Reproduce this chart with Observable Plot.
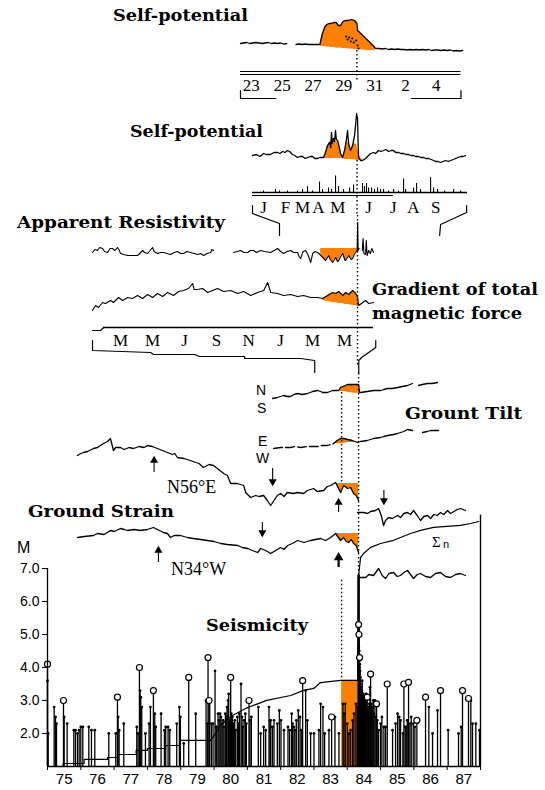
<!DOCTYPE html>
<html><head><meta charset="utf-8">
<script src="https://cdn.jsdelivr.net/npm/d3@7"></script>
<script src="https://cdn.jsdelivr.net/npm/@observablehq/plot@0.6"></script>
<style>
body{margin:0;background:#fff;}
#chart{position:relative;width:545px;height:790px;overflow:hidden;background:#fff;}
</style></head><body><div id="chart"></div>
<script>
// ---------- DATA ----------
// Panel 1: daily self-potential (day index, 0 = 23rd)
const spDayTicks = [0, 2, 4, 6, 8, 10, 12];
const spDayLabels = ["23", "25", "27", "29", "31", "2", "4"];
const sp1 = [[-0.7,4],[-0.5,5],[-0.3,6],[-0.1,4],[0.1,5],[0.3,6],[0.5,5],[0.7,4],[0.9,5],[1.1,6],[1.3,4],[1.5,5],[1.7,4],[1.9,5],[2.1,3],[2.3,4],[2.6,NaN],[2.9,2],[3.1,3],[3.3,2],[3.5,3],[3.7,2],[3.9,2],[4.1,2],[4.3,2],[4.45,2],[4.6,22],[4.75,36],[4.9,42],[5.05,44],[5.2,44],[5.35,46],[5.5,46],[5.65,40],[5.8,40],[5.95,48],[6.1,50],[6.3,50],[6.5,52],[6.7,50],[6.85,44],[6.9,30],[7.1,24],[7.3,18],[7.5,12],[7.7,6],[7.9,0],[8.05,-6],[8.3,-6],[8.5,-7],[8.7,-6],[8.9,-8],[9.1,-7],[9.3,-8],[9.5,-7],[9.7,-8],[9.9,-8],[10.1,-9],[10.3,-8],[10.5,-9],[10.7,-8],[10.9,-9],[11.1,-8],[11.3,-9],[11.5,-8],[11.7,-10],[11.9,-9],[12.1,-9],[12.3,-10],[12.5,-9],[12.7,-10],[12.9,-9],[13.1,-11],[13.3,-10],[13.5,-11],[13.7,-10]];
const sp1Event = [[4.45,2,-1],[4.6,22,-2],[4.75,36,-2],[4.9,42,-3],[5.05,44,-3],[5.2,44,-4],[5.35,46,-4],[5.5,46,-5],[5.65,40,-5],[5.8,40,-5],[5.95,48,-6],[6.1,50,-6],[6.3,50,-7],[6.5,52,-7],[6.7,50,-8],[6.85,44,-8],[6.9,30,-8],[7.1,24,-9],[7.3,18,-9],[7.5,12,-10],[7.7,6,-10],[7.9,0,-10],[8.05,-11,-11]];
const sp1Scribble = [[6.15,18],[6.25,12],[6.35,16],[6.45,8],[6.55,14],[6.65,6],[6.8,10],[6.9,0],[6.95,-6]];
const sp1Guide = [[6.85,-10,-74]];
const sp1AxisLines = [0, 3];
const sp1BracketL = [[-0.7,19],[-0.7,27],[1.6,27]];
const sp1BracketR = [[10.4,27],[13.6,27],[13.6,19]];

// Panel 2: monthly self-potential (day of year)
const monthTicks2 = [15, 44.5, 67.5, 89, 115, 156.5, 190, 217, 247];
const monthLabels2 = ["J","F","M","A","M","J","J","A","S"];
const sp2 = [[0,0],[5,1],[10,-1],[14.8,2],[19,1],[24.3,1],[29,3],[33.7,3],[37,2],[40.5,4],[44,3],[47.2,5],[50,4],[54,1],[57,0],[60.7,-2],[64,-1],[67.5,-1],[71,-3],[74.2,-2],[78,-1],[81,-1],[84,-3],[87.7,-3],[91,-2],[95.8,-2],[98.5,3],[101.2,10],[103.9,13],[105.5,8],[106.6,23],[107.5,12],[109.3,17],[110.5,14],[112,25],[113,16],[114.7,15],[117.4,7],[118.8,2],[121.5,-2],[124.2,5],[126.9,17],[128.2,25],[129.6,12],[132.3,5],[135,10],[137.7,20],[139,30],[140.4,42],[141.7,37],[142.5,10],[143.1,-2],[145.7,-5],[148.4,-5],[152.5,-3],[155.2,-1],[159.2,2],[163.3,3],[166,2],[170,5],[173,4],[176.8,5],[180,6],[183.5,4],[187,5],[190.3,5],[193,3],[197,3],[200,2],[203.8,2],[207,1],[210.5,1],[214,0],[217.3,0],[220,-1],[224,-1],[227,-2],[230.8,-2],[234,-3],[237.6,-3],[241,-4],[244.3,-5],[247,-6],[249.7,-6],[253.7,-7],[257,-6],[260.5,-5],[264,-6],[267.2,-5],[271,-4],[274,-3],[277,-2],[280.8,-1],[284,-1],[287.4,0]];
const sp2Fill = [[95.8,-2,-3],[98.5,3,-3],[101.2,9,-3],[103.9,13,-3],[106.6,15,-3],[109.3,16,-3],[112,15,-3],[114.7,13,-3],[117.4,7,-3],[118.8,2,-3],[121.5,-2,-3],[124.2,5,-4],[126.9,14,-4],[129.6,12,-4],[132.3,6,-4],[135,9,-4],[137.7,12,-4],[140.4,11,-5],[143.1,2,-5],[145.7,-2,-5],[148.4,-5,-5]];
const sp2Counts = [[14.8,1],[31,2],[36.4,1],[47.2,1],[60.7,1],[67.5,2],[74.2,4],[81,1],[90.4,7],[94.5,2],[102.6,3],[106.6,2],[112,11],[116,4],[122.8,2],[130.9,3],[136.3,5],[148.4,6],[151.1,4],[153.8,6],[156.5,3],[160.6,3],[164.6,2],[168.7,3],[172.7,2],[176.8,2],[183.5,1],[190.3,2],[197,1],[203.8,9],[206.5,2],[217.3,3],[221.3,6],[226.7,2],[240.2,10],[244.3,3],[249.7,2],[259.1,1],[271.3,2],[280.7,1]];
const sp2Guide = [[141,-32,23]];
const sp2BracketL = [[0,13],[0,21],[36.4,31],[36.4,43]];
const sp2BracketR = [[288.8,13],[288.8,20],[253.7,32],[252.4,43]];

// Panel 3: resistivity and magnetic gradient (months, 0 = Jan 1)
const monthTicks3 = [2.5, 4.5, 6.5, 8.5, 10.5, 12.5, 14.5, 16.5];
const monthLabels3 = ["M","M","J","S","N","J","M","M"];
const resist = [[0.75,-2],[0.9,1],[1.06,0],[1.2,3],[1.38,2],[1.5,-1],[1.69,-2],[1.85,2],[2.0,2],[2.15,0],[2.31,3],[2.4,1],[2.5,-3],[2.7,-4],[2.94,-5],[3.2,-5],[3.56,-5],[3.7,-3],[3.88,0],[4.0,-2],[4.19,-3],[4.35,0],[4.5,3],[4.6,-1],[4.81,-3],[5.0,-2],[5.19,-2],[5.4,-3],[5.63,-4],[5.85,-2],[6.06,-1],[6.25,-3],[6.44,-3],[6.65,-1],[6.88,-2],[7.1,-3],[7.31,-4],[7.5,-3],[7.69,-5],[7.9,-3],[8.13,-2],[8.2,1],[8.31,0],[8.9,NaN],[9.56,-2],[9.8,-1],[10.0,0],[10.2,-2],[10.44,-2],[10.6,0],[10.81,0],[11.0,-2],[11.25,0],[11.5,-1],[11.88,-2],[12.1,0],[12.31,2],[12.5,-1],[12.69,-3],[12.9,-1],[13.13,0],[13.3,-2],[13.56,-2],[13.65,-6],[13.75,-8],[13.9,-1],[14.06,0],[14.2,-4],[14.38,-12],[14.5,-3],[14.65,-1],[14.81,-2],[14.95,-4],[15.13,-7],[15.31,-10],[15.5,-5],[15.6,-9],[15.75,-12],[15.94,-7],[16.05,-11],[16.13,-10],[16.25,-6],[16.38,-3],[16.5,-9],[16.56,-10],[16.75,-5],[16.9,-9],[17.0,-8],[17.1,-4],[17.19,-2],[17.28,0],[17.31,28],[17.34,0],[17.4,2],[17.5,NaN],[17.6,0],[17.65,12],[17.7,-3],[17.8,-4],[17.85,10],[17.9,-5],[18.0,0],[18.1,-3],[18.2,2],[18.3,-2]];
const resistBase = 2;
const resistFill = [[15.0,-3],[15.13,-7],[15.31,-10],[15.5,-5],[15.6,-9],[15.75,-12],[15.94,-7],[16.05,-11],[16.13,-10],[16.25,-6],[16.38,-3],[16.5,-9],[16.56,-10],[16.75,-5],[16.9,-9],[17.0,-8],[17.1,-4],[17.19,-2],[17.31,0]];
const magnetic = [[0.75,-10],[0.94,-5],[1.13,-7],[1.38,-2],[1.56,-3],[1.88,0],[2.06,-2],[2.38,3],[2.63,0],[2.94,3],[3.25,2],[3.56,5],[3.88,2],[4.19,6],[4.5,3],[4.81,7],[5.13,4],[5.44,8],[5.81,5],[6.13,9],[6.44,10],[6.75,12],[7.0,17],[7.1,11],[7.31,11],[7.63,12],[7.94,8],[8.25,10],[8.56,12],[8.94,9],[9.38,10],[9.81,7],[10.19,9],[10.63,5],[11.06,8],[11.44,10],[11.69,18],[11.88,8],[12.31,7],[12.69,5],[13.13,6],[13.56,4],[13.94,5],[14.38,3],[14.81,3],[15.13,2],[15.44,5],[15.75,8],[15.94,7],[16.13,9],[16.38,5],[16.56,8],[16.75,6],[17.0,10],[17.19,7],[17.31,3],[17.38,-5],[17.63,-2],[17.81,0],[18.0,-3],[18.31,-2]];
const magFill = [[15.13,2,0],[15.44,5,-1],[15.75,8,-2],[15.94,7,-2],[16.13,9,-3],[16.38,5,-3],[16.56,8,-4],[16.75,6,-4],[17.0,10,-5],[17.19,7,-5],[17.31,3,-6],[17.38,-5,-7]];
const p3Guide = [[17.3,-112,40]];
const p3AxisStub = [[0.75,3],[1.25,3],[1.45,0]];
const p3BracketL = [[0.75,13],[0.75,23],[4.38,25],[4.56,27],[7.13,27],[7.44,29],[10.25,29],[10.25,31],[13.75,31],[14.63,33],[14.63,45]];
const p3BracketR = [[18.44,13],[18.44,20],[17.56,30],[17.38,33],[17.38,46]];

// Ground tilt (decimal year)
const tiltNS = [[1981.76,-8],[1981.9,-7],[1982.09,-5],[1982.2,-6],[1982.3,-6],[1982.4,-4],[1982.51,-3],[1982.65,-4],[1982.81,-3],[1982.96,-1],[1983.11,0],[1983.2,-1],[1983.26,-2],[1983.41,-2],[1983.56,0],[1983.74,0],[1983.8,3],[1983.95,5],[1984.01,6],[1984.34,6],[1984.37,-2],[1984.4,-2],[1984.6,-1],[1984.79,0],[1985.0,0],[1985.1,1],[1985.21,2],[1985.35,2],[1985.51,3],[1985.65,4],[1985.81,5],[1985.96,7],[1986.05,NaN],[1986.14,5],[1986.25,6],[1986.41,7],[1986.55,7],[1986.71,8]];
const tiltNSFill = [[1983.76,0,-1],[1983.8,3,-1],[1983.95,5,-1],[1984.01,6,-2],[1984.34,6,-3],[1984.37,-2,-3]];
const tiltEWBefore = [[1981.79,-8],[1982.0,-7],[1982.3,-7],[1982.45,-6],[1982.6,-7],[1982.81,-6],[1983.0,-6],[1983.11,-6],[1983.25,-5],[1983.41,-5],[1983.59,-3]];
const tiltEWAfter = [[1983.59,-3],[1983.7,0],[1983.8,2],[1983.9,2],[1984.01,1],[1984.15,0],[1984.31,-2],[1984.4,-1],[1984.6,0],[1984.79,2],[1985.0,3],[1985.1,4],[1985.21,5],[1985.39,6],[1985.5,7],[1985.6,8],[1985.7,9],[1985.81,11],[1985.96,10],[1986.1,NaN],[1986.26,8],[1986.4,9],[1986.5,10],[1986.74,10]];
const tiltEWFill = [[1983.59,-3,-3],[1983.7,0,-3],[1983.8,2,-3],[1983.9,2,-3],[1984.01,1,-2],[1984.15,0,-2],[1984.31,-2,-2]];

// Ground strain (decimal year)
const strainN56E = [[1975.9,25],[1976.0,27],[1976.08,28],[1976.2,29],[1976.38,32],[1976.5,33],[1976.68,37],[1976.8,39],[1976.89,42],[1976.92,38],[1976.98,30],[1977.05,33],[1977.19,33],[1977.3,31],[1977.45,33],[1977.58,32],[1977.75,34],[1977.9,33],[1978.0,35],[1978.15,34],[1978.3,32],[1978.45,30],[1978.6,28],[1978.75,26],[1978.82,27],[1978.9,23],[1979.1,22],[1979.29,20],[1979.45,18],[1979.55,17],[1979.68,13],[1979.85,16],[1979.98,15],[1980.1,12],[1980.29,7],[1980.4,5],[1980.5,-3],[1980.7,-3],[1980.89,-5],[1980.95,-12],[1981.1,-17],[1981.25,-15],[1981.35,-16],[1981.49,-15],[1981.6,-20],[1981.7,-25],[1981.8,-20],[1981.9,-15],[1982.0,-13],[1982.1,-16],[1982.2,-12],[1982.39,-13],[1982.5,-12],[1982.69,-13],[1982.8,-10],[1982.99,-8],[1983.1,-11],[1983.29,-10],[1983.4,-6],[1983.5,-5],[1983.65,-2],[1983.8,-12],[1983.89,-5],[1984.01,-8],[1984.1,-7],[1984.19,-13],[1984.27,-15],[1984.34,-20]];
const strainN56EFill = [[1983.65,-2,-3],[1983.72,-8,-3],[1983.8,-12,-3],[1983.89,-5,-3],[1984.01,-8,-3],[1984.1,-7,-3],[1984.19,-13,-3],[1984.27,-15,-3],[1984.34,-20,-3]];
const strainN56EAfter = [[1984.31,-32],[1984.5,-32],[1984.61,-33],[1984.7,-31],[1984.85,-30],[1984.94,-28],[1985.02,-35],[1985.09,-45],[1985.15,-40],[1985.24,-37],[1985.35,-38],[1985.51,-35],[1985.6,-37],[1985.7,-33],[1985.81,-32],[1985.9,-34],[1985.99,-30],[1986.1,-35],[1986.2,-40],[1986.3,-36],[1986.41,-35],[1986.5,-38],[1986.6,-34],[1986.7,-35],[1986.8,-32],[1986.9,-34],[1987.01,-30],[1987.1,-33],[1987.2,-31],[1987.3,-29],[1987.4,-28],[1987.55,-30]];
const strainN34W = [[1975.9,13],[1976.1,14],[1976.38,15],[1976.5,17],[1976.7,16],[1976.89,20],[1977.0,19],[1977.19,22],[1977.3,21],[1977.4,20],[1977.6,21],[1977.79,20],[1978.0,21],[1978.18,23],[1978.3,21],[1978.48,18],[1978.6,17],[1978.69,13],[1978.8,15],[1978.99,15],[1979.2,13],[1979.38,12],[1979.6,11],[1979.8,10],[1980.0,9],[1980.2,7],[1980.4,6],[1980.71,5],[1980.85,3],[1981.01,2],[1981.15,0],[1981.31,-2],[1981.4,2],[1981.55,0],[1981.7,-3],[1981.85,0],[1982.0,3],[1982.1,1],[1982.21,5],[1982.35,7],[1982.51,10],[1982.7,8],[1982.9,10],[1983.05,11],[1983.2,12],[1983.35,10],[1983.5,13],[1983.65,17],[1983.8,10],[1983.89,13],[1983.97,9],[1984.04,8],[1984.12,11],[1984.19,7],[1984.27,5],[1984.34,-2]];
const strainN34WFill = [[1983.65,17,17],[1983.8,10,17],[1983.89,13,17],[1983.97,9,17],[1984.04,8,17],[1984.12,11,17],[1984.19,7,17],[1984.27,5,17],[1984.34,-2,17]];
const strainN34WAfter = [[1984.34,-27],[1984.55,-27],[1984.65,-24],[1984.79,-25],[1984.94,-18],[1985.05,-25],[1985.15,-28],[1985.25,-23],[1985.39,-22],[1985.5,-26],[1985.6,-25],[1985.7,-22],[1985.81,-20],[1985.9,-24],[1985.99,-28],[1986.1,-24],[1986.2,-23],[1986.35,-26],[1986.5,-27],[1986.65,-23],[1986.8,-22],[1986.95,-26],[1987.1,-27],[1987.25,-24],[1987.4,-23],[1987.55,-25]];
// arrows on the strain records: [year, tail, head, kind] in each record's units
const arrowsN56E = [[1978.2,8,20,"up"],[1981.76,12,-1,"down"],[1983.74,-32,-22,"up"],[1985.1,-10,-20,"down"]];
const arrowsN34W = [[1981.45,28,18,"down"],[1978.33,-12,0,"up"],[1983.74,-17,-7,"upbold"]];

// Seismicity
const yearTicks = [1975,1976,1977,1978,1979,1980,1981,1982,1983,1984,1985,1986,1987,1988];
const yearLabels = ["75","76","77","78","79","80","81","82","83","84","85","86","87"];
const magTicks = [2, 3, 4, 5, 6, 7];
const quakes = [[1975.0,4.1],[1975.0,3.6],[1975.02,2.0],[1975.2,2.8],[1975.24,2.5],[1975.27,2.3],[1975.48,3.0],[1975.5,2.5],[1975.59,2.3],[1975.79,2.1],[1975.84,2.1],[1975.9,2.0],[1975.95,2.1],[1976.0,2.2],[1976.06,2.2],[1976.24,2.2],[1976.32,2.1],[1976.42,2.1],[1976.84,2.0],[1977.05,2.0],[1977.1,3.1],[1977.12,2.5],[1977.15,2.1],[1977.29,2.3],[1977.68,2.2],[1977.72,2.0],[1977.76,4.0],[1977.78,3.3],[1977.8,3.1],[1977.83,2.8],[1977.94,2.0],[1978.05,2.3],[1978.09,2.8],[1978.18,3.3],[1978.22,2.6],[1978.25,2.2],[1978.41,2.6],[1978.51,2.1],[1978.55,2.2],[1978.62,2.2],[1978.67,2.1],[1978.88,2.3],[1978.96,2.8],[1978.99,2.5],[1979.09,1.7],[1979.24,3.7],[1979.45,2.6],[1979.76,3.0],[1979.8,2.3],[1979.82,4.3],[1979.85,3.0],[1979.87,3.0],[1979.92,2.3],[1979.97,2.3],[1980.03,3.9],[1980.06,2.2],[1980.08,2.2],[1980.12,2.6],[1980.15,2.4],[1980.18,2.6],[1980.21,2.5],[1980.24,2.3],[1980.27,2.4],[1980.3,2.2],[1980.34,2.6],[1980.37,2.5],[1980.39,2.8],[1980.42,3.0],[1980.44,3.2],[1980.47,2.4],[1980.5,3.7],[1980.52,2.6],[1980.55,2.5],[1980.58,2.3],[1980.62,2.4],[1980.65,2.1],[1980.7,2.5],[1980.73,2.3],[1980.76,2.6],[1980.81,3.5],[1980.84,2.5],[1980.86,2.2],[1980.9,2.4],[1980.94,2.6],[1980.97,2.3],[1981.05,3.0],[1981.08,2.4],[1981.12,2.5],[1981.33,2.8],[1981.4,2.0],[1981.49,2.2],[1981.55,2.1],[1981.65,2.8],[1981.68,2.4],[1981.7,2.4],[1981.75,2.2],[1981.8,2.4],[1981.9,2.3],[1981.96,2.7],[1982.01,2.4],[1982.1,2.1],[1982.22,2.2],[1982.27,2.1],[1982.33,2.6],[1982.36,2.3],[1982.4,2.2],[1982.43,2.1],[1982.47,2.4],[1982.53,2.7],[1982.58,2.5],[1982.62,2.1],[1982.66,3.6],[1982.75,3.3],[1982.8,2.4],[1982.9,2.0],[1983.0,2.0],[1983.15,2.1],[1983.2,2.9],[1983.27,2.8],[1983.32,2.0],[1983.45,2.1],[1983.53,2.5],[1983.63,2.5],[1983.75,2.0],[1983.87,2.9],[1983.9,2.6],[1983.94,2.9],[1984.0,2.3],[1984.05,2.0],[1984.1,2.1],[1984.16,2.4],[1984.2,2.6],[1984.26,2.9],[1984.3,2.8],[1984.34,5.3],[1984.35,5.0],[1984.345,4.6],[1984.35,4.4],[1984.355,4.2],[1984.36,4.5],[1984.365,4.0],[1984.37,4.3],[1984.375,4.1],[1984.38,3.6],[1984.385,3.9],[1984.39,3.3],[1984.395,3.7],[1984.4,3.5],[1984.41,3.1],[1984.42,3.4],[1984.43,3.0],[1984.44,3.3],[1984.45,3.6],[1984.46,2.9],[1984.47,3.2],[1984.48,3.2],[1984.49,2.8],[1984.5,2.8],[1984.51,3.1],[1984.52,3.0],[1984.53,2.7],[1984.55,3.1],[1984.57,3.2],[1984.6,3.1],[1984.62,2.7],[1984.63,2.6],[1984.65,2.8],[1984.66,2.9],[1984.68,3.4],[1984.7,3.8],[1984.72,2.5],[1984.73,2.9],[1984.75,2.8],[1984.78,3.0],[1984.8,2.6],[1984.83,3.0],[1984.86,2.5],[1984.88,2.9],[1984.9,2.4],[1984.94,2.1],[1985.0,2.3],[1985.04,2.5],[1985.1,2.2],[1985.15,2.2],[1985.2,3.5],[1985.36,2.1],[1985.45,2.3],[1985.51,2.6],[1985.56,2.5],[1985.6,2.4],[1985.67,2.0],[1985.7,3.5],[1985.74,2.2],[1985.77,2.2],[1985.8,2.4],[1985.84,3.55],[1985.88,2.3],[1985.92,2.5],[1985.98,2.3],[1986.03,2.2],[1986.09,2.4],[1986.35,3.1],[1986.45,2.8],[1986.56,2.0],[1986.71,2.7],[1986.8,3.3],[1987.03,2.1],[1987.34,2.0],[1987.42,2.2],[1987.46,3.3],[1987.64,3.06],[1987.71,3.0],[1987.76,2.3],[1987.86,2.3],[1987.97,2.1]];
const circled = [[1975.0,4.1],[1975.48,3.0],[1977.1,3.1],[1977.76,4.0],[1978.18,3.3],[1979.24,3.7],[1979.82,4.3],[1979.85,3.0],[1980.5,3.7],[1981.05,3.0],[1982.66,3.6],[1983.53,2.5],[1984.34,5.3],[1984.35,5.0],[1984.37,4.3],[1984.6,3.1],[1984.7,3.8],[1984.88,2.9],[1985.2,3.5],[1985.7,3.5],[1985.84,3.55],[1986.09,2.4],[1986.35,3.1],[1986.8,3.3],[1987.46,3.3],[1987.64,3.06]];
const mainShock = [[1984.34, 6.8]];
// cumulative number of events (Σn)
const sigmaSteps = [[1975.0,0],[1975.47,12],[1976.1,29],[1976.8,37],[1977.1,49],[1977.66,66],[1978.0,74],[1978.55,86],[1978.97,107],[1979.9,107]];
const sigmaCurve = [[1979.9,107],[1980.0,127],[1980.2,168],[1980.5,205],[1980.95,238],[1981.58,271],[1982.3,291],[1982.69,312],[1982.99,320],[1983.2,344],[1983.8,353],[1984.31,353],[1984.34,783],[1984.4,857],[1984.49,873],[1984.7,898],[1985.0,914],[1985.39,927],[1985.9,955],[1986.2,968],[1986.59,980],[1987.4,988],[1987.7,996],[1987.95,1004]];
const seisOrange = [[1983.83, 1984.31, 353]];
const seisGuides = [[1983.83,1533,1160],[1983.83,763,353],[1984.34,1611,681]];

// ---------- RENDER ----------
const chart = document.getElementById("chart");
const W = 545, H = 790, ORANGE = "#ff8000";
const X = d => d[0], Y = d => d[1], Z = d => d[2];
const SERIF = "Liberation Serif, Times New Roman, serif";
const SANS = "Liberation Sans, Arial, sans-serif";

function layer({x, y, marks, margins = {}}) {
  const svg = Plot.plot({
    width: W, height: H,
    marginLeft: 0, marginRight: 0, marginTop: 0, marginBottom: 0,
    ...margins,
    x: {axis: null, ...x},
    y: {axis: null, ...y},
    style: {background: "transparent", position: "absolute", left: "0px", top: "0px",
            overflow: "visible", fontFamily: SANS, fontSize: "14px", color: "black"},
    marks
  });
  chart.appendChild(svg);
  return svg;
}
const dotted = {stroke: "black", strokeWidth: 1.4, strokeDasharray: "1.5,2.5"};
const lw = 1.3;
function arrowMarks(data) {
  return [
    Plot.ruleX(data, {x: X, y1: Y, y2: Z, strokeWidth: d => d[3] === "upbold" ? 2.2 : 1.1}),
    Plot.dot(data, {x: X, y: Z, symbol: "triangle", r: d => d[3] === "upbold" ? 2.8 : 2, fill: "black",
      rotate: d => d[3] === "down" ? 180 : 0})
  ];
}

// Panel 1
const x1 = {domain: [-0.7, 13.7], range: [240, 462]};
layer({x: x1, y: {domain: [-20, 70], range: [55, 10]}, marks: [
  Plot.areaY(sp1Event, {x: X, y1: Z, y2: Y, fill: ORANGE}),
  Plot.line(sp1, {x: X, y: Y, strokeWidth: lw}),
  Plot.dot(sp1Scribble, {x: X, y: Y, r: 1.1, fill: "black"}),
  Plot.ruleX(sp1Guide, {x: X, y1: Y, y2: Z, ...dotted})
]});
layer({x: x1, y: {domain: [0, 30], range: [71, 101]}, marks: [
  Plot.ruleY(sp1AxisLines, {y: d => d, x1: () => -0.7, x2: () => 13.6, strokeWidth: 1.2}),
  Plot.text(spDayTicks, {x: d => d, y: () => 14, text: (d, i) => spDayLabels[i], fontFamily: SERIF, fontSize: 17, lineAnchor: "middle"}),
  Plot.line(sp1BracketL, {x: X, y: Y, strokeWidth: 1.2}),
  Plot.line(sp1BracketR, {x: X, y: Y, strokeWidth: 1.2})
]});

// Panel 2
const x2 = {domain: [0, 290], range: [252, 467]};
layer({x: x2, y: {domain: [-40, 45], range: [195, 110]}, marks: [
  Plot.areaY(sp2Fill, {x: X, y1: Z, y2: Y, fill: ORANGE}),
  Plot.line(sp2, {x: X, y: Y, strokeWidth: lw})
]});
layer({x: x2, y: {domain: [0, 20], range: [192, 162]}, marks: [
  Plot.ruleX(sp2Counts, {x: X, y1: () => 0, y2: Y, strokeWidth: 1.1})
]});
layer({x: x2, y: {domain: [0, 45], range: [192, 237]}, marks: [
  Plot.ruleY([0], {x1: () => 0, x2: () => 290, strokeWidth: 1.3}),
  Plot.ruleY([3], {x1: () => 0, x2: () => 190, strokeWidth: 1}),
  Plot.text(monthTicks2, {x: d => d, y: () => 15, text: (d, i) => monthLabels2[i], fontFamily: SERIF, fontSize: 17, lineAnchor: "middle"}),
  Plot.line(sp2BracketL, {x: X, y: Y, strokeWidth: 1.2}),
  Plot.line(sp2BracketR, {x: X, y: Y, strokeWidth: 1.2}),
  Plot.ruleX(sp2Guide, {x: X, y1: Y, y2: Z, ...dotted})
]});

// Panel 3
const x3 = {domain: [0.75, 18.3], range: [92, 373]};
layer({x: x3, y: {domain: [-15, 30], range: [265, 220]}, marks: [
  Plot.areaY(resistFill, {x: X, y1: Y, y2: () => resistBase, fill: ORANGE}),
  Plot.line(resist, {x: X, y: Y, strokeWidth: 1.1})
]});
layer({x: x3, y: {domain: [-15, 25], range: [315, 275]}, marks: [
  Plot.areaY(magFill, {x: X, y1: Z, y2: Y, fill: ORANGE}),
  Plot.line(magnetic, {x: X, y: Y, strokeWidth: 1.1})
]});
layer({x: x3, y: {domain: [0, 50], range: [327, 377]}, marks: [
  Plot.ruleY([0], {x1: () => 1.45, x2: () => 18.3, strokeWidth: 1.3}),
  Plot.line(p3AxisStub, {x: X, y: Y, strokeWidth: 1.2}),
  Plot.text(monthTicks3, {x: d => d, y: () => 13, text: (d, i) => monthLabels3[i], fontFamily: SERIF, fontSize: 17, lineAnchor: "middle"}),
  Plot.line(p3BracketL, {x: X, y: Y, strokeWidth: 1.2}),
  Plot.line(p3BracketR, {x: X, y: Y, strokeWidth: 1.2}),
  Plot.ruleX(p3Guide, {x: X, y1: Y, y2: Z, ...dotted})
]});

// Year-based panels
const xY = {domain: [1975, 1988], range: [47, 480]};
layer({x: xY, y: {domain: [-10, 10], range: [400, 380]}, marks: [
  Plot.areaY(tiltNSFill, {x: X, y1: Z, y2: Y, fill: ORANGE}),
  Plot.line(tiltNS, {x: X, y: Y, strokeWidth: lw})
]});
layer({x: xY, y: {domain: [-10, 12], range: [450, 428]}, marks: [
  Plot.areaY(tiltEWFill, {x: X, y1: Z, y2: Y, fill: ORANGE}),
  Plot.line(tiltEWBefore, {x: X, y: Y, strokeWidth: lw, strokeDasharray: "9,3"}),
  Plot.line(tiltEWAfter, {x: X, y: Y, strokeWidth: lw})
]});
layer({x: xY, y: {domain: [-50, 40], range: [530, 440]}, marks: [
  Plot.areaY(strainN56EFill, {x: X, y1: Y, y2: Z, fill: ORANGE}),
  Plot.line(strainN56E, {x: X, y: Y, strokeWidth: lw}),
  Plot.line(strainN56EAfter, {x: X, y: Y, strokeWidth: lw}),
  ...arrowMarks(arrowsN56E)
]});
layer({x: xY, y: {domain: [-35, 25], range: [585, 525]}, marks: [
  Plot.areaY(strainN34WFill, {x: X, y1: Y, y2: Z, fill: ORANGE}),
  Plot.line(strainN34W, {x: X, y: Y, strokeWidth: lw}),
  Plot.line(strainN34WAfter, {x: X, y: Y, strokeWidth: lw}),
  ...arrowMarks(arrowsN34W)
]});
// Σn layer (orange window, cumulative curve, right border, guides)
layer({x: xY, y: {domain: [0, 1000], range: [766, 522]}, marks: [
  Plot.rect(seisOrange, {x1: X, x2: Y, y1: () => 0, y2: Z, fill: ORANGE}),
  Plot.line(sigmaSteps, {x: X, y: Y, curve: "step-after", strokeWidth: 1.1}),
  Plot.line(sigmaCurve, {x: X, y: Y, strokeWidth: 1.2}),
  Plot.ruleX([1988], {x: d => d, y1: () => 0, y2: () => 1030, strokeWidth: 1.4}),
  Plot.ruleX(seisGuides, {x: X, y1: Y, y2: Z, ...dotted})
]});
// Stems
layer({
  margins: {marginLeft: 47, marginRight: 65, marginTop: 568, marginBottom: 24},
  x: {...xY, axis: "bottom", ticks: yearTicks, tickFormat: () => "", tickSize: 4, label: null},
  y: {domain: [1, 7], range: [766, 568], axis: "left", ticks: magTicks, tickFormat: d3.format(".1f"), tickSize: 5, tickPadding: 3, label: null},
  marks: [
    Plot.ruleX(quakes, {x: X, y1: () => 1, y2: Y, strokeWidth: 1.3}),
    Plot.ruleX(mainShock, {x: X, y1: () => 1, y2: Y, strokeWidth: 2.6}),
    Plot.dot(quakes, {x: X, y: Y, r: 1.4, fill: "black"}),
    Plot.dot(circled, {x: X, y: Y, r: 3, fill: "white", stroke: "black", strokeWidth: 1.2}),
    Plot.ruleX([1975], {x: d => d, y1: () => 1, y2: () => 7, strokeWidth: 1.3}),
    Plot.ruleY([1], {y: d => d, x1: () => 1975, x2: () => 1988, strokeWidth: 1.3}),
    Plot.text(yearLabels, {x: (d, i) => yearTicks[i] + 0.5, y: () => 1, dy: 13, text: d => d, fontFamily: SANS, fontSize: 15, lineAnchor: "middle"})
  ]
});

// ---------- TEXT ANNOTATIONS ----------
const ann = d3.create("svg").attr("width", W).attr("height", H)
  .style("position", "absolute").style("left", "0px").style("top", "0px").style("overflow", "visible");
const titles = [
  ["Self-potential", 113, 21, 135],
  ["Self-potential", 130, 137, 133],
  ["Apparent Resistivity", 17, 228, 208],
  ["Gradient of total", 372, 295, 166],
  ["magnetic force", 372, 319, 150],
  ["Grount Tilt", 405, 419, 117],
  ["Ground Strain", 28, 517, 146],
  ["Seismicity", 206, 631, 102]
];
ann.selectAll("text.title").data(titles).join("text").attr("class", "title")
  .attr("x", d => d[1]).attr("y", d => d[2]).attr("textLength", d => d[3]).attr("lengthAdjust", "spacingAndGlyphs")
  .attr("font-family", "DejaVu Serif, serif").attr("font-weight", "bold").attr("font-size", 16).text(d => d[0]);
const labels = [
  ["N56°E", 167, 493, SERIF, 18, "normal"],
  ["N34°W", 171, 575, SERIF, 18, "normal"],
  ["N", 256, 395, SANS, 14, "normal"],
  ["S", 257, 413, SANS, 14, "normal"],
  ["E", 258, 446, SANS, 14, "normal"],
  ["W", 256, 463, SANS, 14, "normal"],
  ["M", 17, 553, SANS, 16, "normal"],
  ["Σ", 432, 547, SERIF, 15, "normal"],
  ["n", 443, 548, SANS, 11, "normal"]
];
ann.selectAll("text.lab").data(labels).join("text").attr("class", "lab")
  .attr("x", d => d[1]).attr("y", d => d[2]).attr("font-family", d => d[3]).attr("font-size", d => d[4])
  .attr("font-weight", d => d[5]).attr("fill", "black").text(d => d[0]);
chart.appendChild(ann.node());
</script></body></html>
